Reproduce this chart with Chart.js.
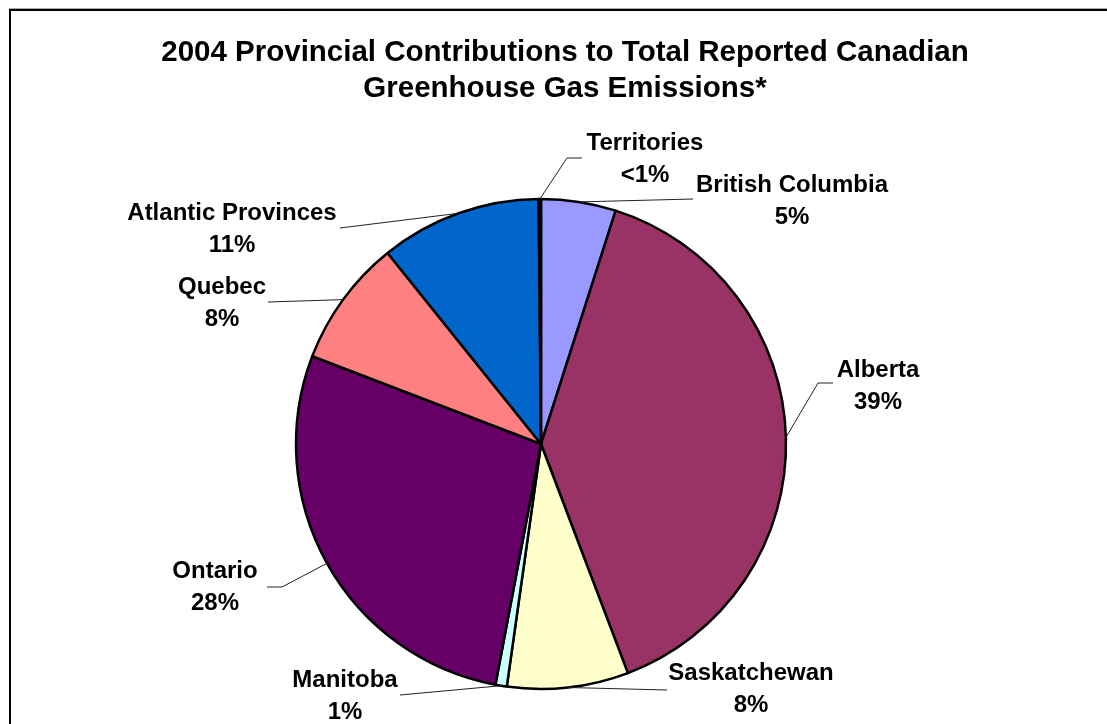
<!DOCTYPE html>
<html>
<head>
<meta charset="utf-8">
<script src="https://cdn.jsdelivr.net/npm/chart.js@4.4.1/dist/chart.umd.min.js"></script>
<style>
  html, body { margin: 0; padding: 0; background: #fff; }
  canvas { display: block; }
</style>
</head>
<body>
<canvas id="ghgPie" width="1107" height="724"></canvas>
<script>
// slices, clockwise from 12 o'clock
const provinces = ['British Columbia', 'Alberta', 'Saskatchewan', 'Manitoba', 'Ontario', 'Quebec', 'Atlantic Provinces', 'Territories']
const shares = [4.93, 39.3, 8.0, 0.75, 27.85, 8.4, 10.62, 0.15]
const pctLabels = ['5%', '39%', '8%', '1%', '28%', '8%', '11%', '<1%']
const sliceColors = ['#9999FF', '#993366', '#FFFFCC', '#CCFFFF', '#660066', '#FF8080', '#0066CC', '#CCCCFF']
const titleLines = ['2004 Provincial Contributions to Total Reported Canadian', 'Greenhouse Gas Emissions*']

// where each label sits: [centre x, first baseline], and the leader line bends/ends
const labelPos = [[792, 192], [878, 377], [751, 680], [345, 687], [215, 578], [222, 294], [232, 220], [645, 150]]
const leaderPts = [
    [[693, 199]],
    [[818, 383], [833, 383]],
    [[667, 690]],
    [[400, 695]],
    [[282, 587], [267, 587]],
    [[268, 302]],
    [[340, 228]],
    [[567, 158], [582, 158]]
]

const FONT = 'bold 24px "Liberation Sans", Arial, sans-serif'

// frame + title
const frameAndTitle = {
    id: 'frameAndTitle',
    beforeDraw(chart) {
        const ctx = chart.ctx
        ctx.save()
        ctx.fillStyle = '#fff'
        ctx.fillRect(0, 0, chart.width, chart.height)
        ctx.strokeStyle = '#aaa'
        ctx.lineWidth = 1
        ctx.beginPath()
        ctx.moveTo(9, 8.5); ctx.lineTo(chart.width, 8.5)
        ctx.stroke()
        ctx.strokeStyle = '#000'
        ctx.lineWidth = 2
        ctx.beginPath()
        ctx.moveTo(10, chart.height); ctx.lineTo(10, 10); ctx.lineTo(chart.width, 10)
        ctx.stroke()
        ctx.fillStyle = '#000'
        ctx.font = 'bold 29.5px "Liberation Sans", Arial, sans-serif'
        ctx.textAlign = 'center'
        ctx.textBaseline = 'alphabetic'
        ctx.fillText(titleLines[0], 565, 61)
        ctx.fillText(titleLines[1], 565, 97)
        ctx.restore()
    }
}

// outside labels with leader lines
const outsideLabels = {
    id: 'outsideLabels',
    afterDatasetsDraw(chart) {
        const ctx = chart.ctx
        const arcs = chart.getDatasetMeta(0).data
        ctx.save()
        for (let i = 0; i < arcs.length; i++) {
            const { x, y, startAngle, endAngle, outerRadius } = arcs[i].getProps(['x', 'y', 'startAngle', 'endAngle', 'outerRadius'], true)
            const mid = (startAngle + endAngle) / 2
            ctx.strokeStyle = '#222'
            ctx.lineWidth = 1
            ctx.beginPath()
            ctx.moveTo(x + outerRadius * Math.cos(mid), y + outerRadius * Math.sin(mid))
            leaderPts[i].forEach(p => ctx.lineTo(p[0], p[1]))
            ctx.stroke()

            ctx.fillStyle = '#000'
            ctx.font = FONT
            ctx.textAlign = 'center'
            ctx.textBaseline = 'alphabetic'
            ctx.fillText(provinces[i], labelPos[i][0], labelPos[i][1])
            ctx.fillText(pctLabels[i], labelPos[i][0], labelPos[i][1] + 32)
        }
        ctx.restore()
    }
}

new Chart(document.getElementById('ghgPie'), {
    type: 'pie',
    data: {
        labels: provinces,
        datasets: [{
            data: shares,
            backgroundColor: sliceColors,
            borderColor: '#000',
            borderWidth: 2.5
        }]
    },
    options: {
        responsive: false,
        animation: false,
        events: [],
        radius: 245,
        layout: { padding: { left: 200, right: 225, top: 200, bottom: 36 } },
        plugins: {
            legend: { display: false },
            title: { display: false },
            tooltip: { enabled: false }
        }
    },
    plugins: [frameAndTitle, outsideLabels]
})
</script>
</body>
</html>
